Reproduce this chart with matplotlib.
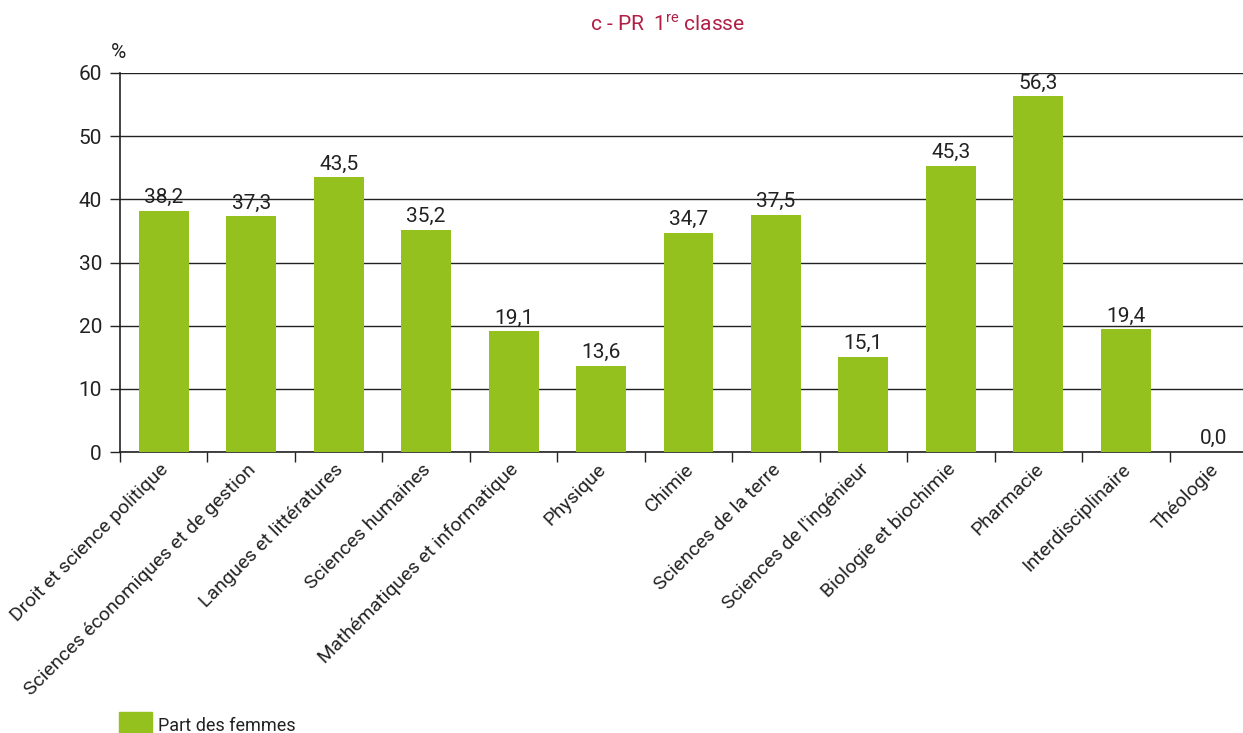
import matplotlib
matplotlib.use("Agg")
import matplotlib.pyplot as plt
from matplotlib.patches import Patch

# Data
categories = ["Droit et science politique", "Sciences économiques et de gestion",
              "Langues et littératures", "Sciences humaines",
              "Mathématiques et informatique", "Physique", "Chimie",
              "Sciences de la terre", "Sciences de l'ingénieur",
              "Biologie et biochimie", "Pharmacie", "Interdisciplinaire", "Théologie"]
part_femmes = [38.2, 37.3, 43.5, 35.2, 19.1, 13.6, 34.7, 37.5, 15.1, 45.3, 56.3, 19.4, 0.0]
yticks = [0, 10, 20, 30, 40, 50, 60]

plt.rcParams["font.family"] = ["Roboto", "DejaVu Sans"]
plt.rcParams["mathtext.fontset"] = "custom"
plt.rcParams["mathtext.rm"] = "Roboto"

green = "#95C11F"
dark = "#222222"

fig = plt.figure(figsize=(12.43, 7.33), dpi=100)
ax = fig.add_axes([120 / 1243, (733 - 452) / 733, 1137 / 1243, 379 / 733])

x = list(range(len(categories)))
ax.bar(x, part_femmes, width=0.57, color=green, zorder=3)

for xi, v in zip(x, part_femmes):
    ax.text(xi, v + 0.6, f"{v:.1f}".replace(".", ","), ha="center", va="bottom",
            fontsize=15, color=dark)

ax.set_xlim(-0.5, len(categories) - 0.5)
ax.set_ylim(0, 60)
ax.set_yticks(yticks)
ax.set_yticklabels([str(t) for t in yticks], fontsize=15, color=dark)
ax.yaxis.grid(True, color=dark, linewidth=1.0, zorder=0)
ax.tick_params(axis="y", length=7, width=1, color=dark, pad=6)

# category ticks at the boundaries, labels at centers
ax.set_xticks([i - 0.5 for i in range(len(categories) + 1)])
ax.set_xticklabels([])
ax.tick_params(axis="x", length=7, width=1, color=dark)
for xi, lab in zip(x, categories):
    ax.annotate(lab, xy=(xi, 0), xycoords=("data", "axes fraction"),
                xytext=(-3, -6), textcoords="offset points",
                ha="right", va="top", rotation=45, rotation_mode="anchor",
                fontsize=14, color=dark)

for s in ["top", "right"]:
    ax.spines[s].set_visible(False)
ax.spines["left"].set_color(dark)
ax.spines["bottom"].set_color(dark)
ax.spines["left"].set_linewidth(1.2)
ax.spines["bottom"].set_linewidth(1.2)

fig.text(111 / 1243, 1 - 52 / 733, "%", fontsize=15, color=dark, ha="left", va="center")
fig.text(668 / 1243, 1 - 24 / 733, r"c - PR  1$^{\mathrm{re}}$ classe", fontsize=15,
         color="#B21E45", ha="center", va="center", family="Roboto")

fig.legend(handles=[Patch(color=green, label="Part des femmes")],
           loc="lower left", bbox_to_anchor=(103 / 1243, -0.03), frameon=False,
           fontsize=13, handlelength=1.8, handleheight=1.9, handletextpad=0.35,
           labelcolor=dark)

fig.savefig("out.png", dpi=100)
